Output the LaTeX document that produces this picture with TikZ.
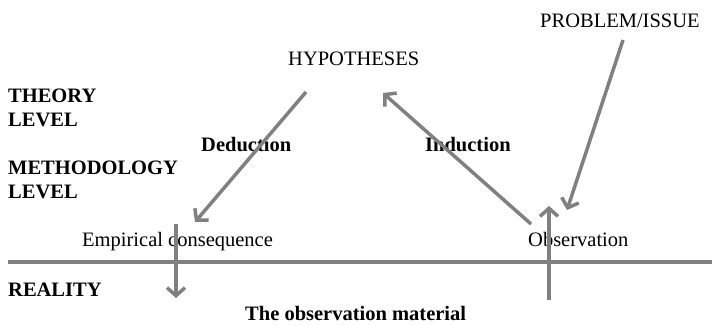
\documentclass[tikz,border=0pt]{standalone}
\usepackage{fontspec}
\setmainfont{Liberation Serif}
\usepackage{xcolor}
\usetikzlibrary{arrows.meta,positioning}
\definecolor{stroke}{HTML}{808080}

\begin{document}
\begin{tikzpicture}[x=1pt,y=-1pt,
  term/.style={inner sep=0pt,font=\fontsize{20.5}{24}\selectfont,anchor=base west},
  tag/.style={term,font=\fontsize{20.5}{24}\selectfont\bfseries,align=left},
  flow/.style={draw=stroke,line width=3.5pt,-{Straight Barb[length=8pt,width=18pt]}},
  ground/.style={draw=stroke,line width=4.5pt}]
  \useasboundingbox (0,0) rectangle (712,325);

  \node[term] (hyp) at (288,65) {HYPOTHESES};
  \node[term] (prob) at (540,27) {PROBLEM/ISSUE};
  \node[tag] (theory) at (8,126) {THEORY\\LEVEL};
  \node[tag] (method) at (8,198) {METHODOLOGY\\LEVEL};
  \node[tag] (ded) at (201,151) {Deduction};
  \node[tag] (ind) at (425,151) {Induction};
  \node[term] (emp) at (82,246) {Empirical consequence};
  \node[term] (obs) at (528,246) {Observation};
  \node[tag] (real) at (8,296) {REALITY};
  \node[tag] (mat) at (245,320) {The observation material};

  % arrow ends
  \coordinate (hypL) at (306,92);
  \coordinate (hypR) at (383,93);
  \coordinate (empT) at (195,222);
  \coordinate (empD) at (176,224);
  \coordinate (matD) at (176,298);
  \coordinate (obsL) at (531,224);
  \coordinate (obsU) at (549,206);
  \coordinate (obsT) at (567,210);
  \coordinate (matU) at (549,300);
  \coordinate (probB) at (623,40);
  \coordinate (lineL) at (8,262);
  \coordinate (lineR) at (712,262);

  \draw[ground] (lineL) -- (lineR);
  \draw[flow] (hypL) -- (empT);
  \draw[flow] (empD) -- (matD);
  \draw[flow] (obsL) -- (hypR);
  \draw[flow] (probB) -- (obsT);
  \draw[flow] (matU) -- (obsU);
\end{tikzpicture}
\end{document}
